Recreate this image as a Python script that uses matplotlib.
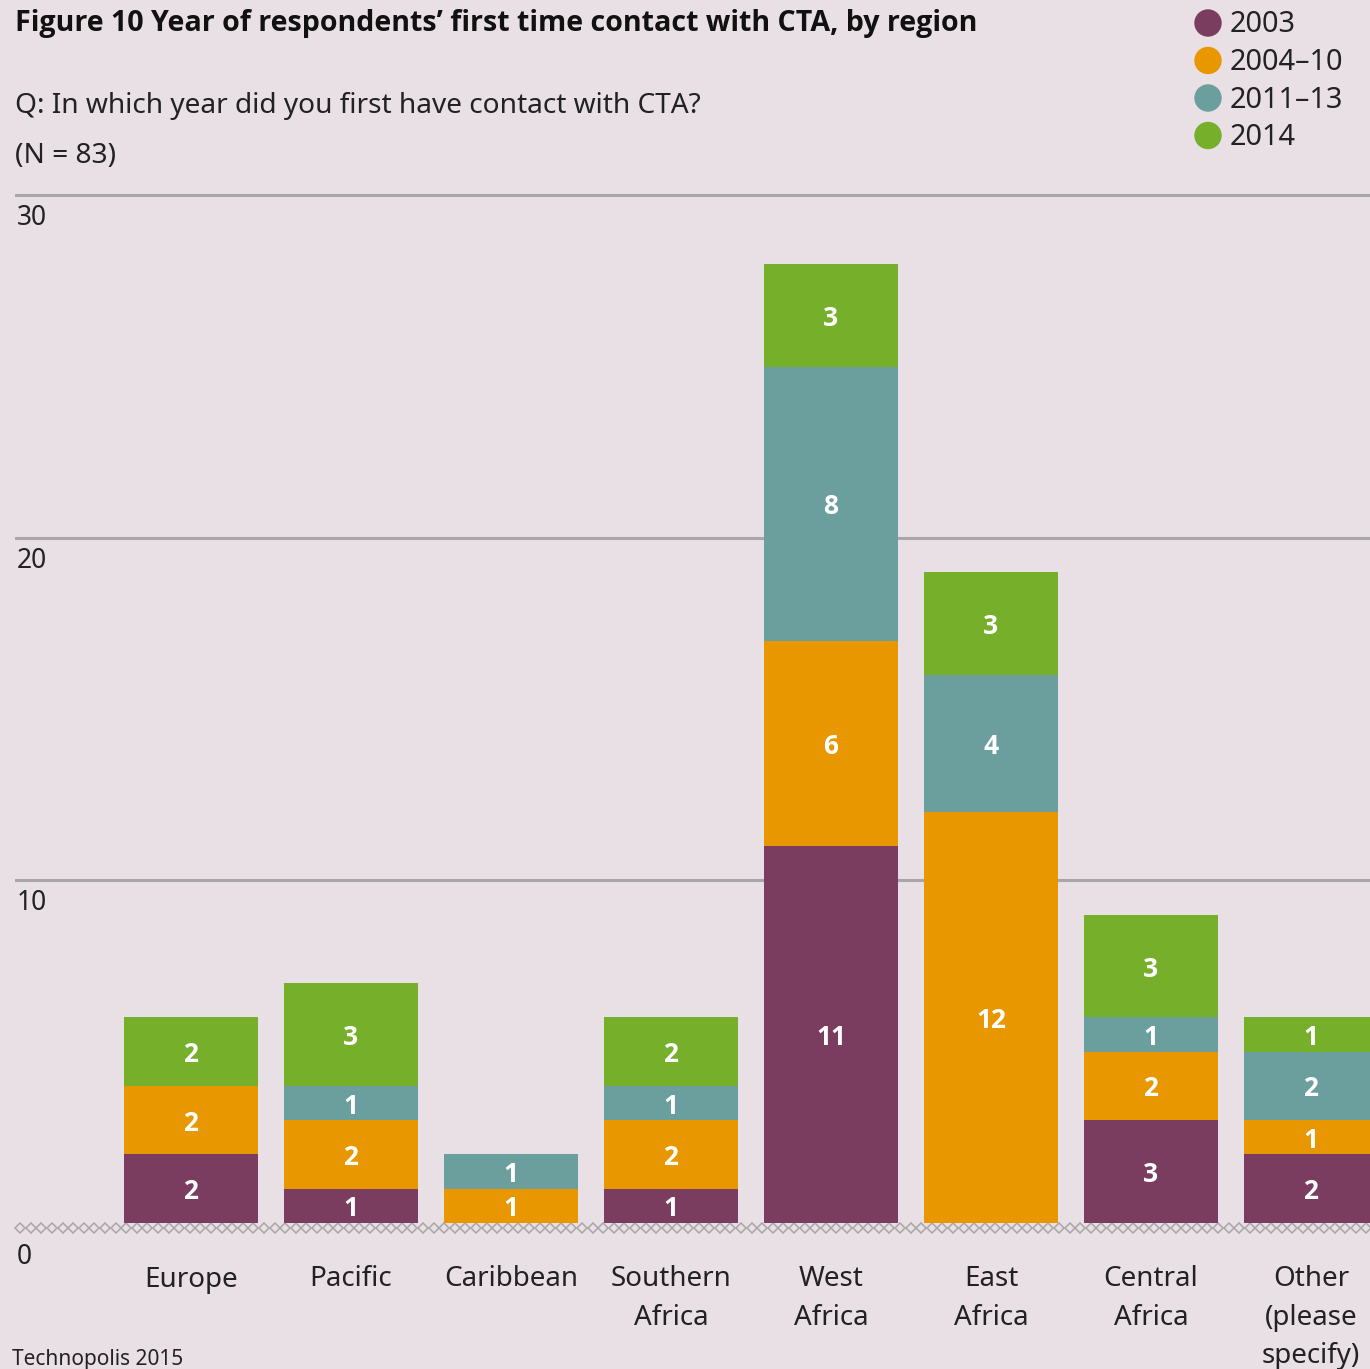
import numpy as np
import matplotlib.pyplot as plt
from matplotlib.transforms import blended_transform_factory, offset_copy

# Data
regions = ["Europe", "Pacific", "Caribbean", "Southern\nAfrica", "West\nAfrica",
           "East\nAfrica", "Central\nAfrica", "Other\n(please\nspecify)"]
series_names = ["2003", "2004\u201310", "2011\u201313", "2014"]
y2003 = [2, 1, 0, 1, 11, 0, 3, 2]
y2004_10 = [2, 2, 1, 2, 6, 12, 2, 1]
y2011_13 = [0, 1, 1, 1, 8, 4, 1, 2]
y2014 = [2, 3, 0, 2, 3, 3, 3, 1]
y_ticks = [0, 10, 20, 30]

colors = ["#7a3c5f", "#e89700", "#6b9f9d", "#76af29"]
bg = "#e8e0e5"
grid_col = "#a8a6a7"
bold_family = ['Open Sans', 'DejaVu Sans']

plt.rcParams['font.family'] = ['Noto Sans', 'DejaVu Sans']

fig = plt.figure(figsize=(13.70, 13.69), dpi=100, facecolor=bg)
W, H = 1370, 1369
ax_left, ax_right, ax_top, ax_bot = 15, 1370, 194, 1228
ax = fig.add_axes([ax_left / W, 1 - ax_bot / H, (ax_right - ax_left) / W, (ax_bot - ax_top) / H])
ax.set_facecolor(bg)
for s in ax.spines.values():
    s.set_visible(False)

x = np.arange(len(regions))
ax.set_xlim(-1.1, 7.369)
ax.set_ylim(-0.146, 30.04)

# Horizontal gridlines
for v in y_ticks[1:]:
    ax.axhline(v, color=grid_col, lw=2.2, zorder=0)

# Stacked bars with value labels
series = [y2003, y2004_10, y2011_13, y2014]
bottom = np.zeros(len(regions))
width = 0.8375
for vals, col in zip(series, colors):
    vals = np.array(vals, dtype=float)
    ax.bar(x, vals, width=width, bottom=bottom, color=col, zorder=2, linewidth=0)
    for xi, b, v in zip(x, bottom, vals):
        if v > 0:
            ax.text(xi, b + v / 2, f"{int(v)}", ha="center", va="center_baseline",
                    color="white", fontsize=19, fontweight="bold",
                    family=bold_family, zorder=3)
    bottom += vals

# Diamond-chain baseline
px_per_x = (ax_right - ax_left) / (7.369 + 1.1)
step = 10.6 / px_per_x
xs = np.arange(-1.1 + step / 2, 7.369, step)
ax.plot(xs, np.full_like(xs, -0.146), linestyle="none", marker="D", markersize=5.2,
        mfc="none", mec=grid_col, mew=1.1, clip_on=False, zorder=1)

# Y tick labels under gridlines
ax.set_yticks([])
trans = blended_transform_factory(ax.transAxes, ax.transData)
for v in y_ticks:
    dy = -34 if v == 0 else -23
    t = offset_copy(trans, fig=fig, x=2, y=dy, units="dots")
    ax.text(0, v, str(v), transform=t, ha="left", va="center", fontsize=19, color="#222222")

# Category labels
ax.set_xticks(x)
ax.set_xticklabels(regions, fontsize=20, color="#222222", linespacing=1.5)
ax.tick_params(axis="x", length=0, pad=27)

# Title block
fig.text(15 / W, 1 - 24 / H, "Figure 10 Year of respondents\u2019 first time contact with CTA, by region",
         ha="left", va="center", fontsize=20.6, fontweight="bold", family=bold_family,
         color="#111111")
fig.text(15 / W, 1 - 106 / H, "Q: In which year did you first have contact with CTA?",
         ha="left", va="center", fontsize=20.2, color="#222222")
fig.text(15 / W, 1 - 156 / H, "(N = 83)", ha="left", va="center", fontsize=20.2, color="#222222")

# Legend
for i, (name, col) in enumerate(zip(series_names, colors)):
    yy = 1 - (23 + 37.5 * i) / H
    fig.patches.append(plt.Circle((1208 / W, yy), 13 / W, transform=fig.transFigure,
                                  color=col, figure=fig))
    fig.text(1230 / W, 1 - (25 + 37.5 * i) / H, name, ha="left", va="center",
             fontsize=20.8, color="#222222")

# Source
fig.text(12 / W, 1 - 1360 / H, "Technopolis 2015", ha="left", va="center", fontsize=15, color="#222222")

fig.savefig("out.png", dpi=100, facecolor=bg)
